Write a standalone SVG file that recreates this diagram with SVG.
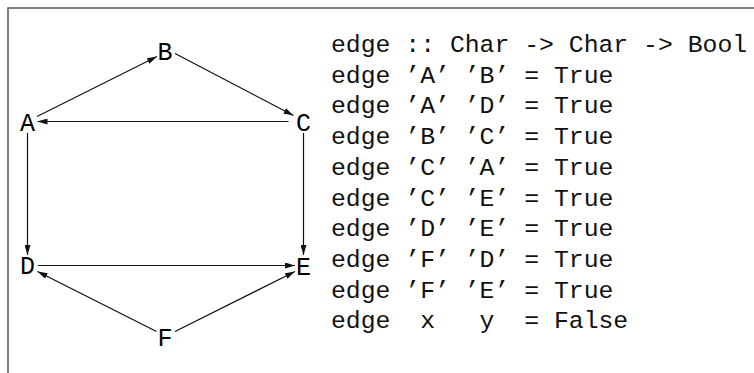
<svg xmlns="http://www.w3.org/2000/svg" width="754" height="373" viewBox="0 0 754 373">
  <style>
    .frame { fill: none; stroke: #555; stroke-width: 1.5; }
    .edge { stroke: #111; stroke-width: 1.2; fill: none; marker-end: url(#arrow); }
    .node text { font-family: "Liberation Mono", "DejaVu Sans Mono", monospace; font-size: 25px; fill: #000; text-anchor: middle; }
    .code text { font-family: "Liberation Mono", "DejaVu Sans Mono", monospace; font-size: 24.77px; fill: #111; white-space: pre; }
  </style>
  <defs>
    <marker id="arrow" viewBox="0 0 10 6" refX="10" refY="3" markerWidth="10" markerHeight="6" markerUnits="userSpaceOnUse" orient="auto">
      <path d="M0,0 L10,3 L0,6 Z" fill="#111"/>
    </marker>
  </defs>

  <rect width="754" height="373" fill="#fff"/>
  <path class="frame" d="M8,373 V8 H754"/>

  <!-- directed edges of the graph -->
  <g id="connectors">
    <line class="edge" x1="37" y1="116.5" x2="157" y2="56.5"/>
    <line class="edge" x1="175" y1="53.5" x2="293.5" y2="115.5"/>
    <line class="edge" x1="288.5" y1="121.5" x2="37.5" y2="121.5"/>
    <line class="edge" x1="27.5" y1="133" x2="27.5" y2="255"/>
    <line class="edge" x1="303.5" y1="133" x2="303.5" y2="255"/>
    <line class="edge" x1="38" y1="265.5" x2="295" y2="265.5"/>
    <line class="edge" x1="156.5" y1="331.5" x2="37.5" y2="271.5"/>
    <line class="edge" x1="175" y1="331.5" x2="295" y2="271.5"/>
  </g>

  <g id="node-A" class="node"><text x="27.5" y="131">A</text></g>
  <g id="node-B" class="node"><text x="165" y="60">B</text></g>
  <g id="node-C" class="node"><text x="303.5" y="131">C</text></g>
  <g id="node-D" class="node"><text x="27.5" y="274">D</text></g>
  <g id="node-E" class="node"><text x="303.5" y="275">E</text></g>
  <g id="node-F" class="node"><text x="165" y="346">F</text></g>

  <!-- Haskell definition of the edge relation -->
  <g id="code" class="code">
    <text x="331" y="52">edge :: Char -&gt; Char -&gt; Bool</text>
    <text x="331" y="82.7">edge ’A’ ’B’ = True</text>
    <text x="331" y="113.4">edge ’A’ ’D’ = True</text>
    <text x="331" y="144.1">edge ’B’ ’C’ = True</text>
    <text x="331" y="174.8">edge ’C’ ’A’ = True</text>
    <text x="331" y="205.5">edge ’C’ ’E’ = True</text>
    <text x="331" y="236.2">edge ’D’ ’E’ = True</text>
    <text x="331" y="266.9">edge ’F’ ’D’ = True</text>
    <text x="331" y="297.6">edge ’F’ ’E’ = True</text>
    <text x="331" y="328.3">edge  x   y  = False</text>
  </g>
</svg>
